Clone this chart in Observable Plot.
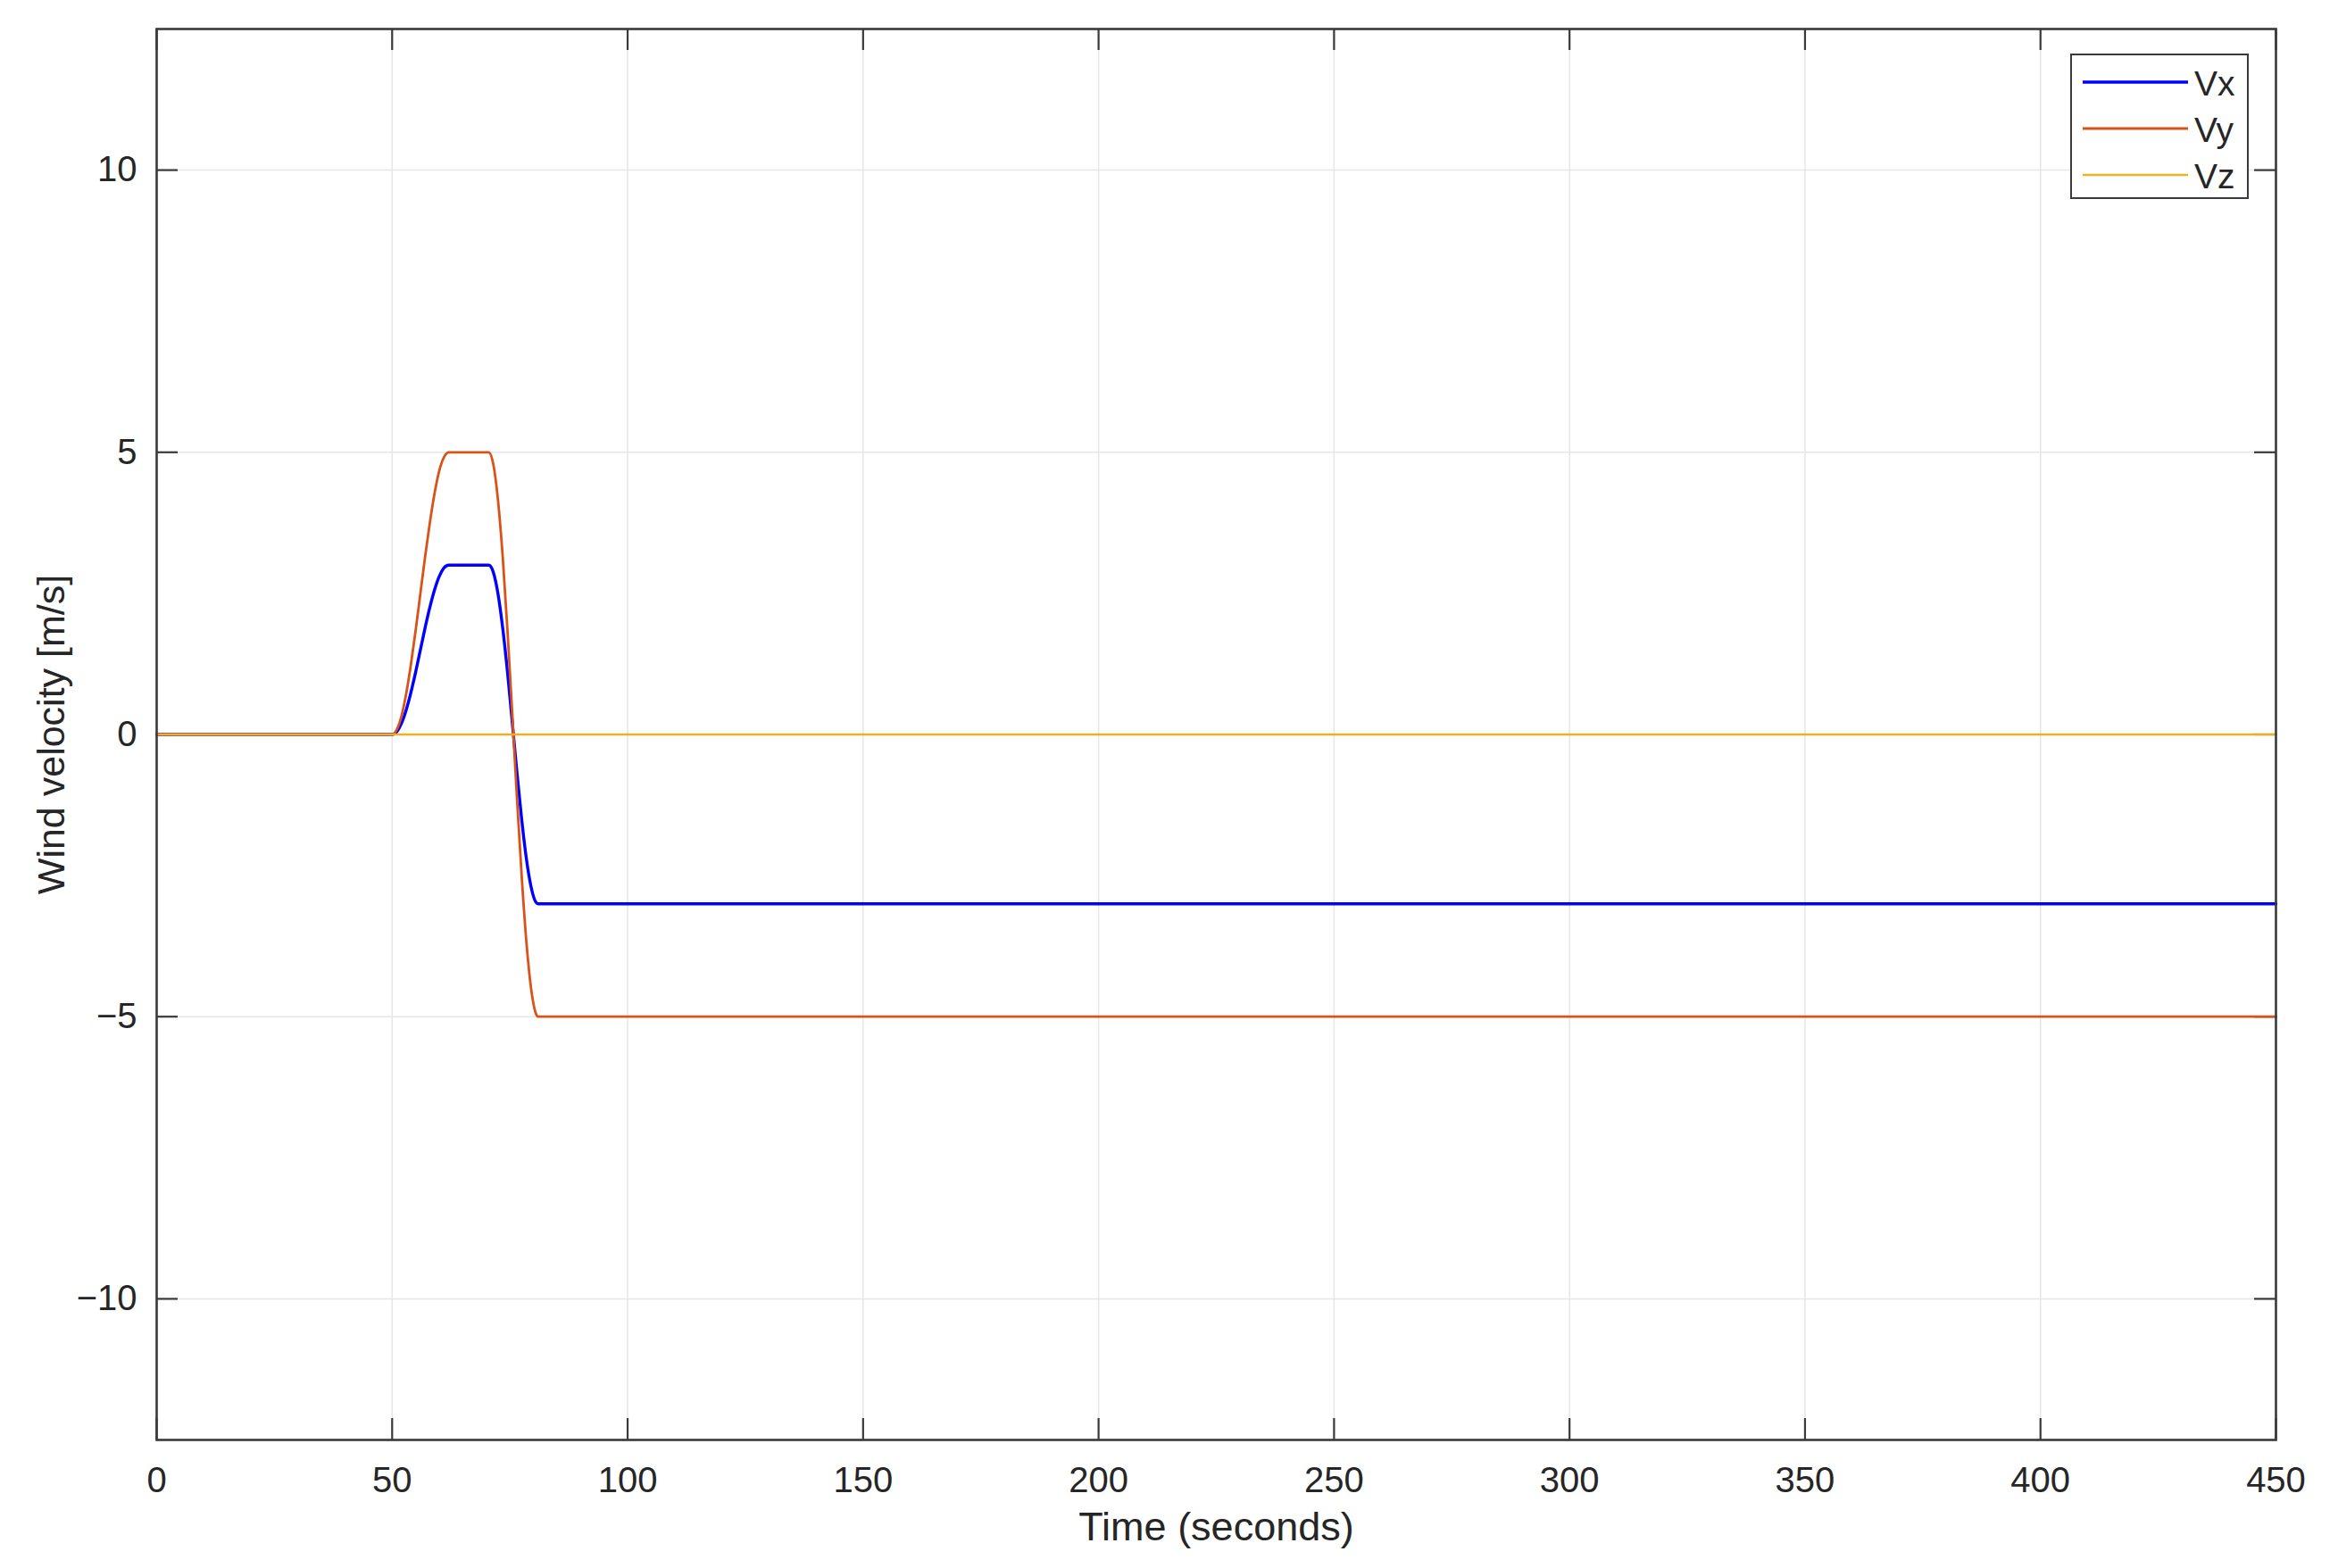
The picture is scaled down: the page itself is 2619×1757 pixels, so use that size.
<!DOCTYPE html>
<html>
<head>
<meta charset="utf-8">
<script src="https://cdn.jsdelivr.net/npm/d3@7"></script>
<script src="https://cdn.jsdelivr.net/npm/@observablehq/plot@0.6"></script>
<style>
  html, body { margin: 0; padding: 0; background: #fff; }
  #wrap { position: relative; width: 2619px; height: 1757px; font-family: "Liberation Sans", Arial, sans-serif; }
  #legend { position: absolute; left: 2319px; top: 60px; width: 196px; height: 159px; border: 2.5px solid #3a3a3a; background: #fff; }
  #legend .row { position: absolute; left: 0; height: 52px; width: 196px; }
  #legend svg { position: absolute; left: 10px; top: 0; }
  #legend span { position: absolute; left: 137px; top: 4px; font-size: 39px; color: #262626; line-height: 44px; }
</style>
</head>
<body>
<div id="wrap"></div>
<script>
// ---- data ----
const time = [0, 50, 51, 52, 53, 54, 55, 56, 57, 58, 59, 60, 61, 62,
              70.5, 71.5, 72.5, 73.5, 74.5, 75.5, 76.5, 77.5, 78.5, 79.5, 80.5, 81, 450];
const Vx = [0, 0, 0.05, 0.2, 0.44, 0.75, 1.11, 1.5, 1.89, 2.25, 2.56, 2.8, 2.95, 3,
            3, 2.87, 2.48, 1.87, 1.10, 0.22, -0.67, -1.5, -2.2, -2.7, -2.97, -3, -3];
const Vy = [0, 0, 0.09, 0.33, 0.73, 1.25, 1.85, 2.5, 3.15, 3.75, 4.27, 4.67, 4.91, 5,
            5, 4.78, 4.13, 3.12, 1.83, 0.37, -1.12, -2.5, -3.67, -4.5, -4.94, -5, -5];
const timeZ = [0, 450];
const Vz = [0, 0];
const seriesNames = ["Vx", "Vy", "Vz"];
const seriesColors = ["#0000ff", "#D95319", "#EDB120"];
const seriesWidths = [3.4, 2.8, 2.6];
const xTicks = [0, 50, 100, 150, 200, 250, 300, 350, 400, 450];
const yTicks = [-10, -5, 0, 5, 10];
const xLabel = "Time (seconds)";
const yLabel = "Wind velocity [m/s]";

const rows = [
  time.map((t, i) => ({series: "Vx", t, v: Vx[i]})),
  time.map((t, i) => ({series: "Vy", t, v: Vy[i]})),
  timeZ.map((t, i) => ({series: "Vz", t, v: Vz[i]}))
];

const W = 2619, H = 1757;
const mL = 175, mR = 70, mT = 32, mB = 144;
const frameH = H - mT - mB, frameW = W - mL - mR;
const tickLen = 24;
const axisColor = "#3a3a3a";
const fmt = d3.format("d");

const chart = Plot.plot({
  width: W, height: H,
  marginLeft: mL, marginRight: mR, marginTop: mT, marginBottom: mB,
  style: {fontFamily: "Liberation Sans, Arial, sans-serif", background: "#fff"},
  x: {domain: [0, 450]},
  y: {domain: [-12.5, 12.5]},
  marks: [
    Plot.gridX(xTicks, {stroke: "#e6e6e6", strokeOpacity: 1, strokeWidth: 1.5}),
    Plot.gridY(yTicks, {stroke: "#e6e6e6", strokeOpacity: 1, strokeWidth: 1.5}),
    Plot.axisX(xTicks, {tickSize: 0, tickPadding: 30, fontSize: 40, color: "#262626", label: null, tickFormat: fmt}),
    Plot.axisY(yTicks, {tickSize: 0, tickPadding: 22, fontSize: 40, color: "#262626", label: null, tickFormat: fmt}),
    // inward ticks on all four sides
    Plot.tickX(xTicks, {x: d => d, insetTop: frameH - tickLen, stroke: axisColor, strokeWidth: 2.2}),
    Plot.tickX(xTicks, {x: d => d, insetBottom: frameH - tickLen, stroke: axisColor, strokeWidth: 2.2}),
    Plot.tickY(yTicks, {y: d => d, insetRight: frameW - tickLen, stroke: axisColor, strokeWidth: 2.2}),
    Plot.tickY(yTicks, {y: d => d, insetLeft: frameW - tickLen, stroke: axisColor, strokeWidth: 2.2}),
    ...rows.map((data, i) => Plot.line(data, {
      x: "t", y: "v", stroke: seriesColors[i], strokeWidth: seriesWidths[i], curve: "monotone-x"
    })),
    Plot.frame({stroke: axisColor, strokeWidth: 2.6}),
    Plot.text([xLabel], {frameAnchor: "bottom", textAnchor: "middle", dy: 112, fontSize: 45, fill: "#262626"}),
    Plot.text([yLabel], {frameAnchor: "left", textAnchor: "middle", dx: -117, rotate: -90, fontSize: 43, fill: "#262626"})
  ]
});

const wrap = document.getElementById("wrap");
wrap.appendChild(chart);

// legend (inside the axes, top-right)
const legend = document.createElement("div");
legend.id = "legend";
seriesNames.forEach((name, i) => {
  const row = document.createElement("div");
  row.className = "row";
  row.style.top = (6 + i * 52) + "px";
  row.innerHTML = `<svg width="122" height="52"><line x1="2" x2="120" y1="24" y2="24" stroke="${seriesColors[i]}" stroke-width="${seriesWidths[i]}"/></svg><span>${name}</span>`;
  legend.appendChild(row);
});
wrap.appendChild(legend);
</script>
</body>
</html>
